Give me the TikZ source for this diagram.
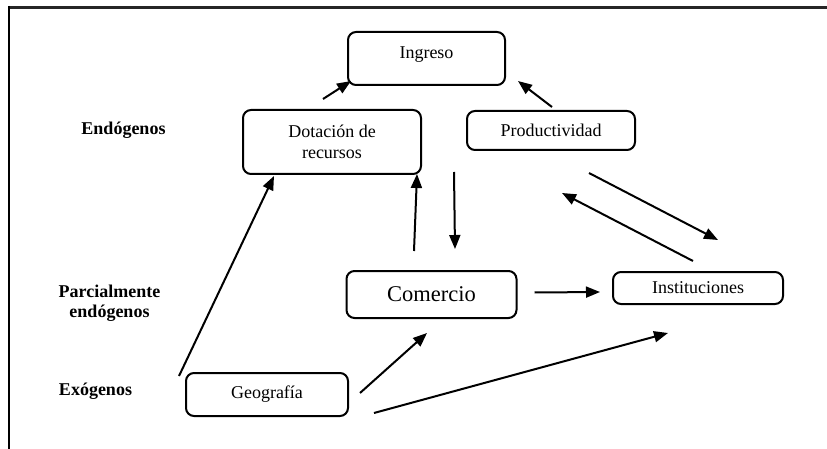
\documentclass[tikz,border=0pt]{standalone}
\usepackage{fontspec}
\setmainfont{Liberation Serif}
\usetikzlibrary{arrows.meta}

\begin{document}
\begin{tikzpicture}[x=1pt,y=-1pt]

      \useasboundingbox (0,0) rectangle (827,449);
      \draw[line width=3pt, black!85] (8,7.5) -- (827,7.5);
      \draw[line width=2pt] (9,6) -- (9,449);

      \begin{scope}[every node/.style={draw, rounded corners=8pt, line width=2pt,
          inner sep=0pt, align=center, font=\fontsize{18}{21}\selectfont}]
        \node[minimum width=157, minimum height=53, text depth=11pt] (ingreso) at (426.5,58.5) {Ingreso};
        \node[minimum width=178, minimum height=64] (dotacion) at (332,142) {Dotación de\\recursos};
        \node[minimum width=168, minimum height=39] (productividad) at (551,130.5) {Productividad};
        \node[minimum width=170, minimum height=47, font=\fontsize{22.5}{27}\selectfont] (comercio) at (431.5,294.5) {Comercio};
        \node[minimum width=170, minimum height=32] (instituciones) at (698,288) {Instituciones};
        \node[minimum width=162, minimum height=43] (geografia) at (267,394.5) {Geografía};
      \end{scope}

      \begin{scope}[every node/.style={align=center, font=\bfseries\fontsize{18}{20}\selectfont}]
        \node (endogenos) at (123.5,130.5) {Endógenos};
        \node (parcial)   at (109.5,303.5) {Parcialmente\\endógenos};
        \node (exogenos)  at (95.5,391)    {Exógenos};
      \end{scope}

      \begin{scope}[every edge/.style={draw, line width=2pt, -{Triangle[length=14pt,width=11pt]}}]
        \path ([shift={(-9,-10)}]dotacion.north)          edge ([shift={(4,-5)}]ingreso.south west);
        \path ([shift={(1,-3)}]productividad.north)       edge ([shift={(12,-5)}]ingreso.south east);
        \path ([shift={(-17.5,-19)}]comercio.north)       edge ([shift={(-5,-1)}]dotacion.south east);
        \path ([shift={(-12,21)}]productividad.south west) edge ([shift={(23.5,-21)}]comercio.north);
        \path ([shift={(38,22)}]productividad.south)      edge ([shift={(20,-31)}]instituciones.north);
        \path ([shift={(-5,-10)}]instituciones.north)     edge ([shift={(11,42)}]productividad.south);
        \path ([shift={(17,-2)}]comercio.east)            edge ([shift={(-12,4)}]instituciones.west);
        \path ([shift={(-6,4)}]geografia.north west)      edge ([shift={(32,1)}]dotacion.south west);
        \path ([shift={(11,-1.5)}]geografia.east)         edge ([shift={(-4.5,14)}]comercio.south);
        \path ([shift={(25,-4)}]geografia.south east)     edge ([shift={(-30,28)}]instituciones.south);
      \end{scope}

    \end{tikzpicture}
\end{document}
